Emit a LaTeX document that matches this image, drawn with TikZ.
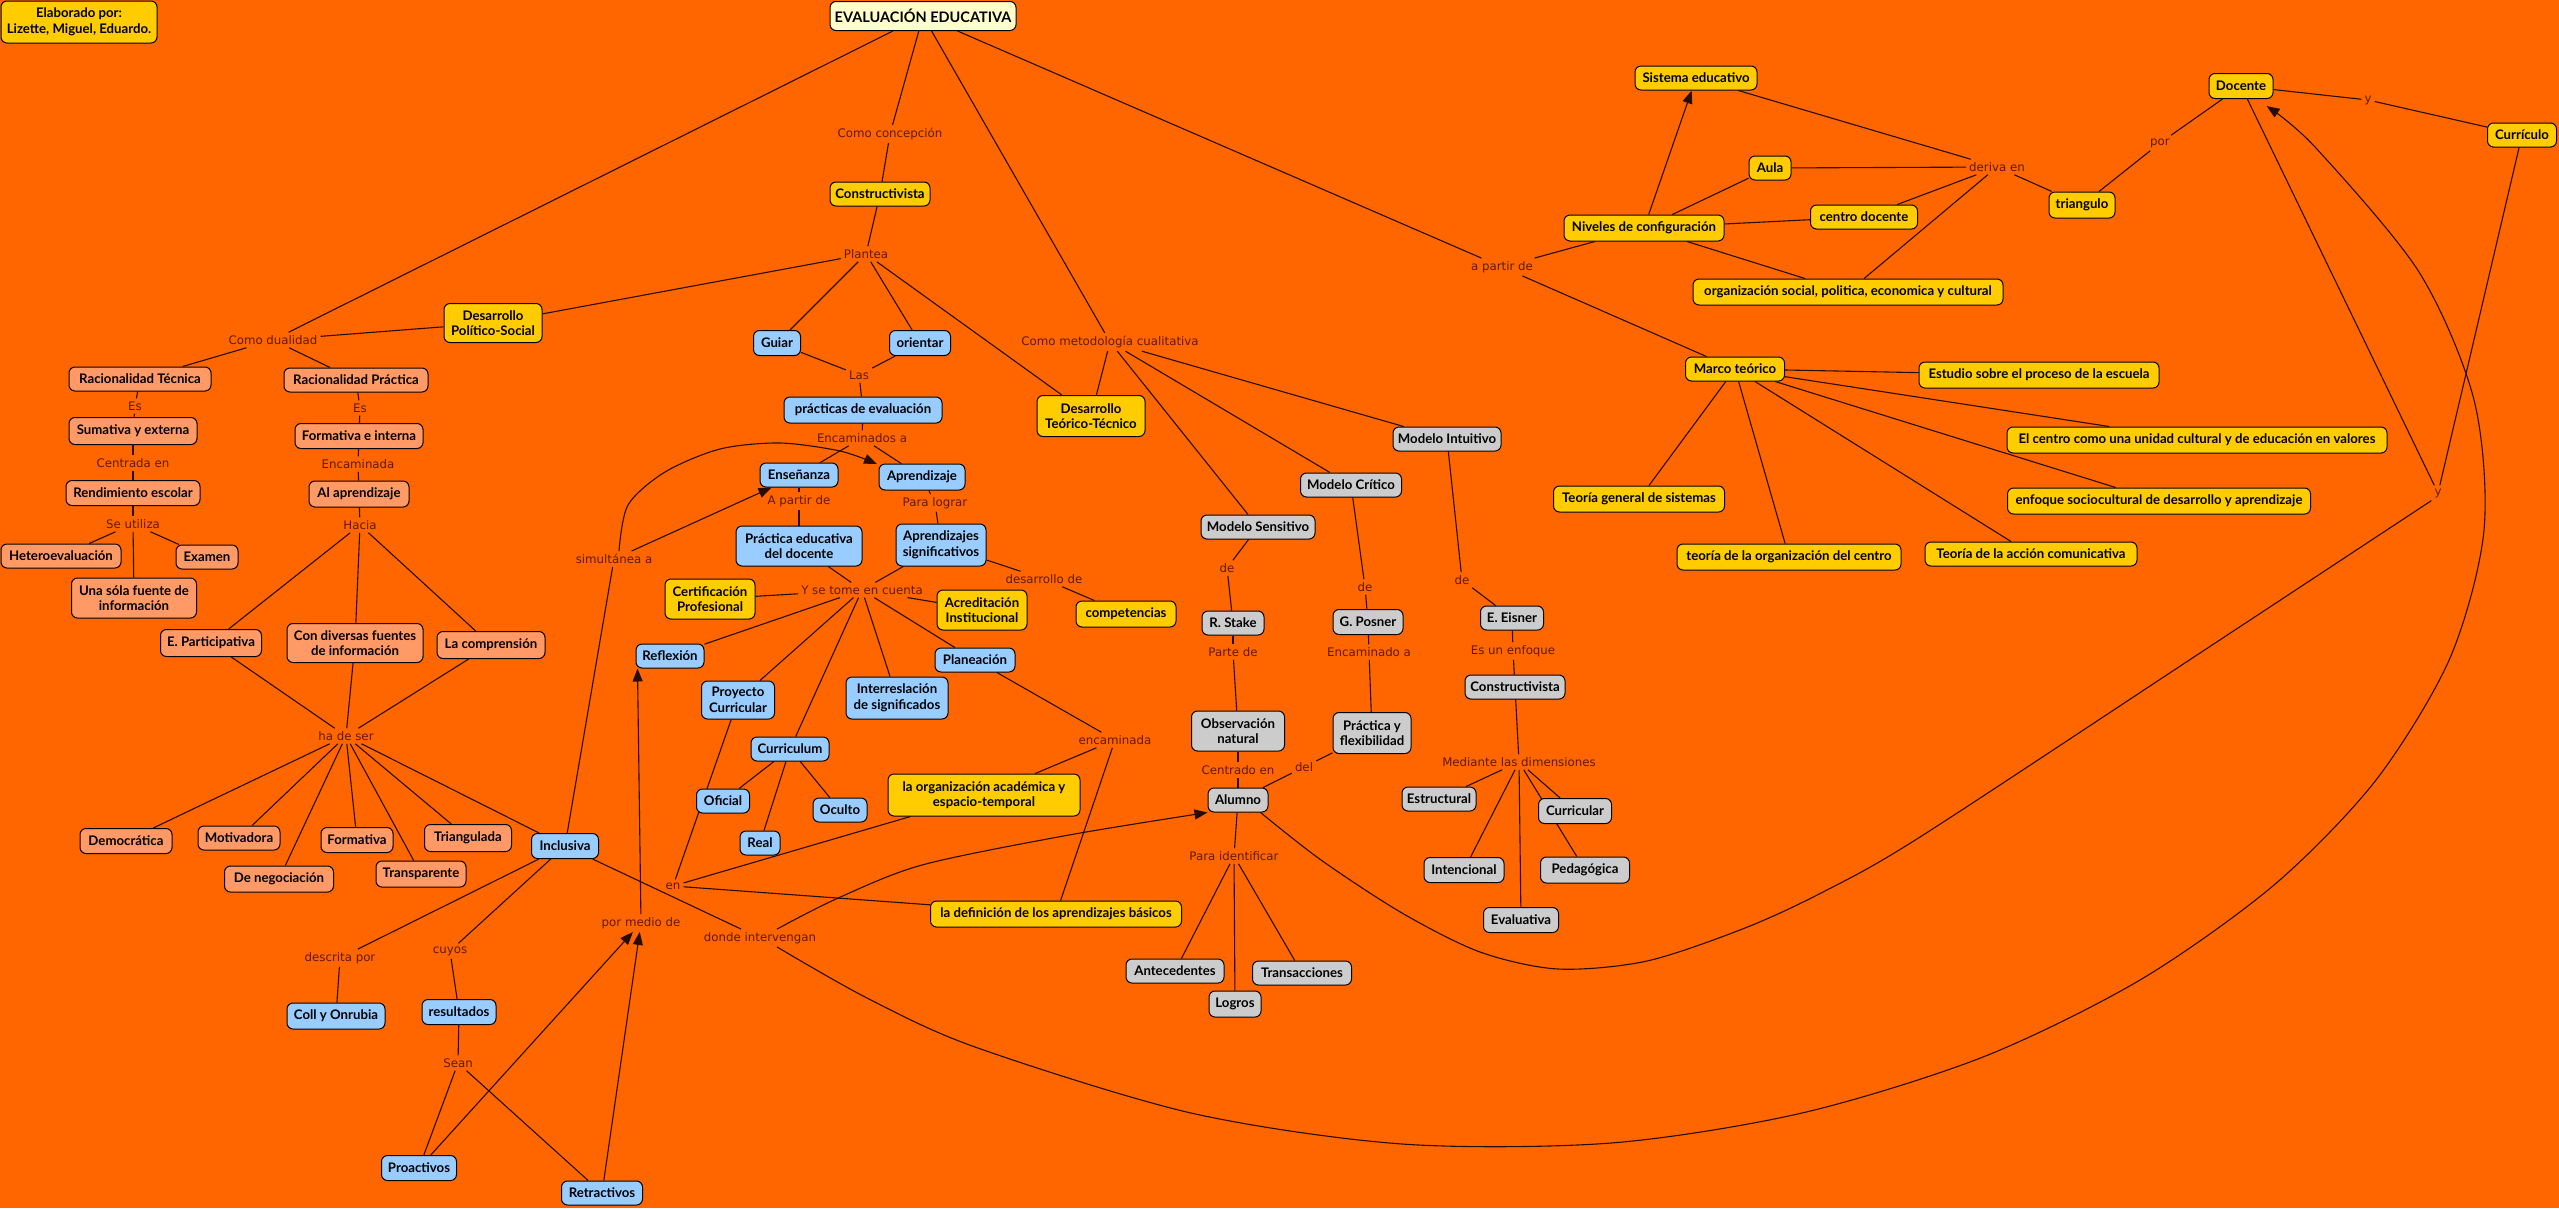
\documentclass[tikz,border=0pt]{standalone}
\usepackage{fontspec}
\setmainfont{Lato}
\newfontfamily\labfont{DejaVu Sans}
\usetikzlibrary{arrows.meta}
\definecolor{bgc}{HTML}{FF6600}
\definecolor{yel}{HTML}{FFCC00}
\definecolor{sal}{HTML}{FF9966}
\definecolor{blu}{HTML}{99CCFF}
\definecolor{gra}{HTML}{CCCCCC}
\definecolor{tit}{HTML}{FFFFCC}
\definecolor{labc}{RGB}{95,25,0}
\definecolor{linc}{RGB}{40,12,0}
\pgfdeclarelayer{bgl}\pgfdeclarelayer{edg}\pgfsetlayers{bgl,edg,main}
\begin{document}
\begin{tikzpicture}[x=1pt,y=-1pt,
 box/.style={draw=black, line width=1pt, rounded corners=6pt, align=center, inner sep=2pt, font=\fontsize{13.2}{15.5}\selectfont\bfseries, text=black},
 wh/.style 2 args={minimum width=#1pt, minimum height=#2pt},
 yb/.style={box, fill=yel}, sb/.style={box, fill=sal}, bb/.style={box, fill=blu},
 gb/.style={box, fill=gra}, tb/.style={box, fill=tit, font=\fontsize{14.5}{16}\selectfont\bfseries},
 lab/.style={font=\labfont\fontsize{11.8}{13}\selectfont, text=labc, inner sep=3pt},
 con/.style={draw=linc, line width=1.1pt},
 arr/.style={con, -{Triangle[length=13pt,width=10pt]}}]
\useasboundingbox (0,0) rectangle (2559,1208);
\begin{pgfonlayer}{bgl}\fill[bgc] (0,0) rectangle (2559,1208);\end{pgfonlayer}
% concept nodes
\node[yb,wh={156}{42}] (autor) at (79,22) {Elaborado por:\\Lizette, Miguel, Eduardo.};
\node[tb,wh={186}{29}] (eval) at (923,16) {EVALUACIÓN EDUCATIVA};
\node[yb,wh={98}{39}] (dps) at (493,323) {Desarrollo\\Político-Social};
\node[sb,wh={142}{24}] (rt) at (140,379) {Racionalidad Técnica};
\node[sb,wh={144}{24}] (rp) at (356,380) {Racionalidad Práctica};
\node[sb,wh={128}{27}] (sum) at (133,431) {Sumativa y externa};
\node[sb,wh={128}{25}] (fei) at (359,436) {Formativa e interna};
\node[sb,wh={134}{25}] (rend) at (133,493) {Rendimiento escolar};
\node[sb,wh={100}{26}] (alap) at (359,494) {Al aprendizaje};
\node[sb,wh={120}{24}] (hetero) at (61,556) {Heteroevaluación};
\node[sb,wh={62}{24}] (examen) at (207,557) {Examen};
\node[sb,wh={125}{40}] (unasola) at (134,598) {Una sóla fuente de\\información};
\node[sb,wh={101}{27}] (epart) at (211,643) {E. Participativa};
\node[sb,wh={136}{39}] (condiv) at (355,643) {Con diversas fuentes\\de información};
\node[sb,wh={108}{27}] (lacomp) at (491,645) {La comprensión};
\node[sb,wh={92}{25}] (democ) at (126,841) {Democrática};
\node[sb,wh={82}{24}] (motiv) at (239,838) {Motivadora};
\node[sb,wh={72}{25}] (format) at (357,840) {Formativa};
\node[sb,wh={87}{27}] (triang) at (468,838) {Triangulada};
\node[bb,wh={67}{25}] (inclus) at (565,846) {Inclusiva};
\node[sb,wh={109}{26}] (denego) at (279,879) {De negociación};
\node[sb,wh={90}{26}] (transp) at (421,874) {Transparente};
\node[bb,wh={98}{26}] (coll) at (336,1016) {Coll y Onrubia};
\node[bb,wh={74}{25}] (result) at (459,1012) {resultados};
\node[bb,wh={75}{25}] (proact) at (419,1168) {Proactivos};
\node[bb,wh={81}{24}] (retract) at (602,1193) {Retractivos};
\node[yb,wh={100}{24}] (constr1) at (880,194) {Constructivista};
\node[bb,wh={47}{25}] (guiar) at (777,343) {Guiar};
\node[bb,wh={61}{25}] (orientar) at (920,343) {orientar};
\node[bb,wh={158}{26}] (practeval) at (863,410) {prácticas de evaluación};
\node[bb,wh={78}{24}] (ensen) at (799,475) {Enseñanza};
\node[bb,wh={86}{26}] (aprend) at (922,477) {Aprendizaje};
\node[bb,wh={126}{40}] (pracdoc) at (799,546) {Práctica educativa\\del docente};
\node[bb,wh={90}{42}] (aprsig) at (941,545) {Aprendizajes\\significativos};
\node[yb,wh={90}{40}] (certif) at (710,599) {Certificación\\Profesional};
\node[yb,wh={90}{40}] (acred) at (982,610) {Acreditación\\Institucional};
\node[yb,wh={100}{26}] (compet) at (1126,614) {competencias};
\node[bb,wh={68}{24}] (reflex) at (670,656) {Reflexión};
\node[bb,wh={80}{24}] (planea) at (975,660) {Planeación};
\node[bb,wh={73}{38}] (proyc) at (738,700) {Proyecto\\Curricular};
\node[bb,wh={102}{42}] (interr) at (897,698) {Interreslación\\de significados};
\node[bb,wh={78}{24}] (curric) at (790,749) {Curriculum};
\node[yb,wh={192}{42}] (orgacad) at (984,795) {la organización académica y\\espacio-temporal};
\node[bb,wh={53}{24}] (oficial) at (723,801) {Oficial};
\node[bb,wh={54}{24}] (oculto) at (840,810) {Oculto};
\node[bb,wh={40}{24}] (real) at (760,843) {Real};
\node[yb,wh={251}{26}] (defapr) at (1056,914) {la definición de los aprendizajes básicos};
\node[yb,wh={108}{41}] (dtt) at (1091,416) {Desarrollo\\Teórico-Técnico};
\node[gb,wh={114}{24}] (msens) at (1258,527) {Modelo Sensitivo};
\node[gb,wh={101}{24}] (mcrit) at (1351,485) {Modelo Crítico};
\node[gb,wh={108}{24}] (mintu) at (1447,439) {Modelo Intuitivo};
\node[gb,wh={62}{24}] (stake) at (1233,623) {R. Stake};
\node[gb,wh={93}{40}] (obsnat) at (1238,731) {Observación\\natural};
\node[gb,wh={60}{24}] (alumno) at (1238,800) {Alumno};
\node[gb,wh={70}{25}] (posner) at (1368,622) {G. Posner};
\node[gb,wh={78}{41}] (pyf) at (1372,733) {Práctica y\\flexibilidad};
\node[gb,wh={63}{24}] (eisner) at (1512,618) {E. Eisner};
\node[gb,wh={100}{24}] (constr2) at (1515,687) {Constructivista};
\node[gb,wh={74}{24}] (estruct) at (1439,799) {Estructural};
\node[gb,wh={73}{25}] (curricular) at (1575,811) {Curricular};
\node[gb,wh={80}{25}] (intenc) at (1464,870) {Intencional};
\node[gb,wh={89}{26}] (pedag) at (1585,870) {Pedagógica};
\node[gb,wh={75}{25}] (evaluat) at (1521,920) {Evaluativa};
\node[gb,wh={98}{24}] (antec) at (1175,971) {Antecedentes};
\node[gb,wh={52}{26}] (logros) at (1235,1004) {Logros};
\node[gb,wh={99}{24}] (transac) at (1302,973) {Transacciones};
\node[yb,wh={160}{26}] (niveles) at (1644,228) {Niveles de configuración};
\node[yb,wh={122}{24}] (sisted) at (1696,78) {Sistema educativo};
\node[yb,wh={42}{24}] (aula) at (1770,168) {Aula};
\node[yb,wh={107}{24}] (centrodoc) at (1864,217) {centro docente};
\node[yb,wh={310}{26}] (orgsoc) at (1848,292) {organización social, politica, economica y cultural};
\node[yb,wh={99}{24}] (marco) at (1735,369) {Marco teórico};
\node[yb,wh={66}{26}] (triangulo) at (2082,205) {triangulo};
\node[yb,wh={64}{25}] (docente) at (2241,86) {Docente};
\node[yb,wh={69}{24}] (curriculo) at (2522,135) {Currículo};
\node[yb,wh={240}{26}] (estudio) at (2039,375) {Estudio sobre el proceso de la escuela};
\node[yb,wh={380}{26}] (elcentro) at (2197,440) {El centro como una unidad cultural y de educación en valores};
\node[yb,wh={303}{26}] (enfoque) at (2159,501) {enfoque sociocultural de desarrollo y aprendizaje};
\node[yb,wh={212}{24}] (teoriaac) at (2031,554) {Teoría de la acción comunicativa};
\node[yb,wh={171}{26}] (tgs) at (1639,499) {Teoría general de sistemas};
\node[yb,wh={224}{26}] (tocentro) at (1789,557) {teoría de la organización del centro};
% linking phrases
\node[lab] (comodual) at (273,340) {Como dualidad};
\node[lab] (es1) at (135,406) {Es};
\node[lab] (es2) at (360,408) {Es};
\node[lab] (centrada) at (133,463) {Centrada en};
\node[lab] (encam) at (358,464) {Encaminada};
\node[lab] (seut) at (133,524) {Se utiliza};
\node[lab] (hacia) at (360,525) {Hacia};
\node[lab] (hadeser) at (346,736) {ha de ser};
\node[lab] (descrita) at (340,958) {descrita por};
\node[lab] (cuyos) at (450,951) {cuyos};
\node[lab] (pormedio) at (641,923) {por medio de};
\node[lab] (sean) at (458,1063) {Sean};
\node[lab] (simult) at (614,559) {simultánea a};
\node[lab] (comoconc) at (890,134) {Como concepción};
\node[lab] (plantea) at (866,254) {Plantea};
\node[lab] (las) at (859,375) {Las};
\node[lab] (encam2) at (862,438) {Encaminados a};
\node[lab] (apartir1) at (799,501) {A partir de};
\node[lab] (paralograr) at (935,503) {Para lograr};
\node[lab] (desde) at (1044,579) {desarrollo de};
\node[lab] (ysetome) at (862,590) {Y se tome en cuenta};
\node[lab] (encamin) at (1115,740) {encaminada};
\node[lab] (en) at (673,886) {en};
\node[lab] (dondeint) at (760,938) {donde intervengan};
\node[lab] (comometod) at (1110,342) {Como metodología cualitativa};
\node[lab] (de1) at (1227,568) {de};
\node[lab] (partede) at (1233,652) {Parte de};
\node[lab] (centrado) at (1238,770) {Centrado en};
\node[lab] (de2) at (1365,587) {de};
\node[lab] (encaminadoa) at (1369,652) {Encaminado a};
\node[lab] (del) at (1304,767) {del};
\node[lab] (de3) at (1462,580) {de};
\node[lab] (esunenf) at (1513,651) {Es un enfoque};
\node[lab] (mediante) at (1519,762) {Mediante las dimensiones};
\node[lab] (paraident) at (1234,856) {Para identificar};
\node[lab] (apartir2) at (1502,267) {a partir de};
\node[lab] (deriva) at (1997,167) {deriva en};
\node[lab] (por) at (2160,143) {por};
\node[lab] (ylab1) at (2368,100) {y};
\node[lab] (ylab2) at (2438,493) {y};
% connectors
\begin{pgfonlayer}{edg}
\foreach \a/\b in {eval/comodual, comodual/rt, comodual/rp, comodual/dps, dps/plantea,
 eval/comoconc, comoconc/constr1, constr1/plantea, plantea/guiar, plantea/orientar, plantea/dtt,
 guiar/las, orientar/las, las/practeval, practeval/encam2, encam2/ensen, encam2/aprend,
 ensen/apartir1, apartir1/pracdoc, aprend/paralograr, paralograr/aprsig, aprsig/desde, desde/compet,
 pracdoc/ysetome, aprsig/ysetome, ysetome/certif, ysetome/acred, ysetome/reflex, ysetome/proyc,
 ysetome/curric, ysetome/interr, ysetome/planea, curric/oficial, curric/real, curric/oculto,
 planea/encamin, encamin/orgacad, encamin/defapr, proyc/en, en/orgacad, en/defapr,
 rt/es1, es1/sum, sum/centrada, centrada/rend, rend/seut, seut/hetero, seut/unasola, seut/examen,
 rp/es2, es2/fei, fei/encam, encam/alap, alap/hacia, hacia/epart, hacia/condiv, hacia/lacomp,
 epart/hadeser, condiv/hadeser, lacomp/hadeser, hadeser/democ, hadeser/motiv, hadeser/denego,
 hadeser/format, hadeser/transp, hadeser/triang, hadeser/inclus,
 inclus/simult, inclus/descrita, descrita/coll, inclus/cuyos, cuyos/result, result/sean,
 sean/proact, sean/retract, inclus/dondeint,
 eval/comometod, comometod/dtt, comometod/msens, comometod/mcrit, comometod/mintu,
 msens/de1, de1/stake, stake/partede, partede/obsnat, obsnat/centrado, centrado/alumno,
 mcrit/de2, de2/posner, posner/encaminadoa, encaminadoa/pyf, pyf/del, del/alumno,
 mintu/de3, de3/eisner, eisner/esunenf, esunenf/constr2, constr2/mediante, mediante/estruct,
 mediante/intenc, mediante/evaluat, mediante/curricular, mediante/pedag,
 alumno/paraident, paraident/antec, paraident/logros, paraident/transac,
 eval/apartir2, apartir2/niveles, apartir2/marco, niveles/aula, niveles/centrodoc, niveles/orgsoc,
 sisted/deriva, aula/deriva, centrodoc/deriva, orgsoc/deriva, deriva/triangulo, triangulo/por,
 por/docente, docente/ylab1, ylab1/curriculo, docente/ylab2, curriculo/ylab2,
 marco/estudio, marco/elcentro, marco/enfoque, marco/teoriaac, marco/tgs, marco/tocentro}
 {\draw[con] (\a) -- (\b);}
\draw[arr] (niveles) -- (sisted);
\draw[arr] (simult) -- (ensen);
\draw[arr] (pormedio) -- ([xshift=2pt]reflex.south west);
\draw[arr] (proact) -- (pormedio);
\draw[arr] (retract) -- (pormedio);
\coordinate (s1) at ([xshift=5pt]simult.north);
\draw[arr] plot[smooth] coordinates {(s1) (628,505) (665,472) (720,449) (780,443) (840,451) (877,464)};
\coordinate (d1) at ([xshift=17pt]dondeint.north);
\coordinate (d2) at (alumno.south west);
\draw[arr] plot[smooth] coordinates {(d1) (836,899) (922,865) (1069,835) (d2)};
\coordinate (d3) at ([xshift=17pt]dondeint.south);
\coordinate (d4) at ([xshift=-7pt,yshift=-7pt]docente.south east);
\draw[arr] plot[smooth] coordinates {(d3) (867,998) (975,1047) (1191,1113) (1402,1144) (1611,1143)
 (1802,1113) (1983,1057) (2140,980) (2274,885) (2376,780) (2450,658) (2484,530) (2474,400)
 (2419,272) (2315,147) (d4)};
\coordinate (a1) at ([xshift=-8pt]alumno.south east);
\coordinate (a2) at (ylab2.south west);
\draw[con] plot[smooth] coordinates {(a1) (1321,860) (1402,913) (1480,952) (1558,969) (1647,961)
 (1745,928) (1823,892) (1920,837) (2200,653) (a2)};
\end{pgfonlayer}
\end{tikzpicture}
\end{document}
